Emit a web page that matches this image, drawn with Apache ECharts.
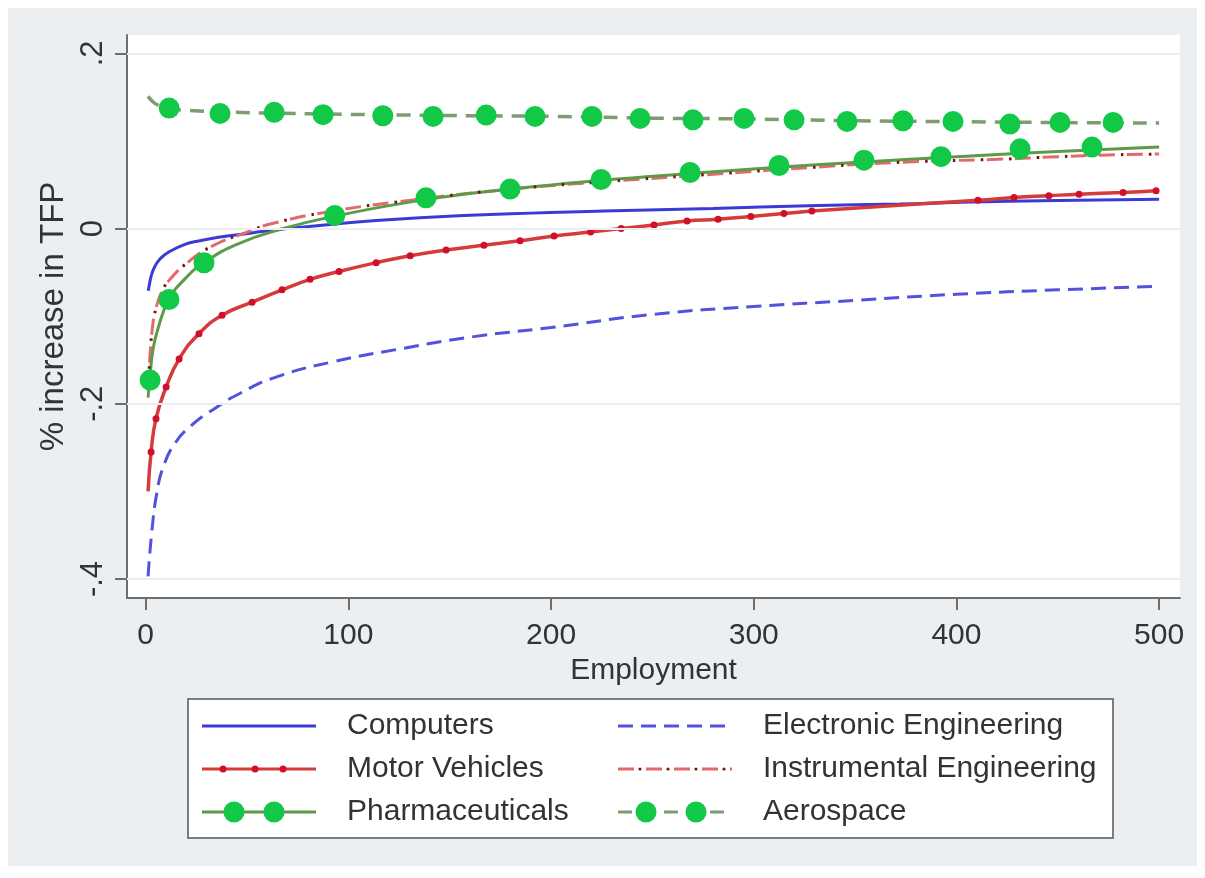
<!DOCTYPE html>
<html><head><meta charset="utf-8">
<script src="https://cdn.jsdelivr.net/npm/echarts@6/dist/echarts.min.js"></script>
<style>html,body{margin:0;padding:0;background:#fff}#c{width:1205px;height:878px}</style>
</head><body><div id="c"></div><script>
// ---- data ----
const xTicks = [0, 100, 200, 300, 400, 500];
const yTicks = [-0.4, -0.2, 0, 0.2];
const yTickLabels = ['-.4', '-.2', '0', '.2'];

const computers = [[1.3,-0.071],[2,-0.062],[3,-0.052],[4.6,-0.043],[7,-0.035],[11.2,-0.027],[19.4,-0.018],[26.8,-0.014],[35.9,-0.010],[52.3,-0.005],[70,0.000],[92.5,0.005],[125.5,0.011],[170,0.016],[226,0.020],[280,0.023],[327,0.026],[372,0.028],[402,0.030],[450,0.032],[500,0.0335]];
const electronic = [[1.2,-0.397],[3,-0.347],[5.5,-0.302],[8.7,-0.272],[14.5,-0.245],[22,-0.226],[33,-0.207],[46.6,-0.188],[65,-0.169],[92.6,-0.152],[124,-0.138],[160,-0.124],[200,-0.113],[250,-0.098],[300,-0.089],[350,-0.082],[400,-0.075],[450,-0.070],[500,-0.066]];
const motorVehicles = [[1.2,-0.300],[2.7,-0.255],[5.1,-0.217],[10.1,-0.181],[16.5,-0.149],[26.3,-0.120],[37.7,-0.099],[52.5,-0.084],[67.3,-0.070],[81.1,-0.058],[95.4,-0.049],[113.7,-0.039],[130.5,-0.031],[148.2,-0.0245],[166.9,-0.019],[184.7,-0.014],[201.5,-0.0085],[219.5,-0.004],[234.6,0.000],[250.8,0.004],[267.1,0.0087],[282.4,0.0106],[298.6,0.0137],[314.9,0.0171],[328.7,0.020],[410.6,0.0323],[428.4,0.0354],[445.6,0.0375],[460.5,0.0392],[482.2,0.0411],[498.5,0.043]];
const instrumental = [[1.2,-0.185],[2,-0.150],[3.5,-0.110],[5,-0.092],[8,-0.072],[12,-0.058],[20,-0.040],[32,-0.021],[50,-0.004],[63,0.006],[90,0.019],[130,0.032],[180,0.045],[230,0.054],[280,0.062],[330,0.070],[376,0.076],[420,0.079],[450,0.082],[475,0.084],[500,0.085]];
const pharmaceuticals = [[1.2,-0.193],[2.2,-0.168],[3.5,-0.140],[6,-0.115],[11.5,-0.081],[20,-0.056],[28.8,-0.039],[45,-0.018],[68,0.000],[93,0.014],[138,0.033],[180,0.045],[225,0.055],[270,0.063],[312,0.070],[354,0.076],[400,0.082],[450,0.088],[500,0.093]];
const pharmaMarkers = [[2.2,-0.173],[11.5,-0.081],[28.8,-0.039],[93.3,0.015],[138.3,0.035],[179.8,0.045],[224.7,0.056],[268.6,0.064],[312.5,0.072],[354.4,0.078],[392.4,0.082],[431.4,0.091],[466.9,0.093]];
const aerospace = [[1.2,0.151],[3,0.146],[6,0.141],[11,0.137],[20,0.135],[40,0.133],[80,0.131],[150,0.129],[200,0.128],[250,0.126],[300,0.125],[350,0.123],[400,0.122],[450,0.121],[500,0.1205]];
const aeroMarkers = [[11.6,0.1375],[36.7,0.1314],[63.4,0.1326],[87.5,0.130],[117,0.1287],[141.8,0.128],[168,0.1295],[192.1,0.128],[220.2,0.128],[243.9,0.1257],[270,0.1241],[295.2,0.1257],[319.9,0.1241],[346,0.1223],[373.6,0.123],[398.3,0.1223],[426.4,0.1192],[451.1,0.1211],[477.3,0.1211]];

// ---- styles ----
const C = {
  comp: '#3a3ad6', elec: '#5252de', motorLine: '#d63b3b', motorDot: '#d0102a',
  instr: '#e26a6a', instrDot: '#7a1212', pharmaLine: '#5e9a4a', green: '#12c947', aeroLine: '#7d9c70'
};
const FONT = '"Liberation Sans", Arial, sans-serif';
const axisColor = '#6e6e6e';

function svgIcon(inner) {
  return 'image://data:image/svg+xml;charset=utf-8,' + encodeURIComponent(
    '<svg xmlns="http://www.w3.org/2000/svg" width="114" height="24" viewBox="0 0 114 24">' + inner + '</svg>');
}
const icons = {
  Computers: svgIcon('<line x1="0" y1="12" x2="114" y2="12" stroke="' + C.comp + '" stroke-width="3"/>'),
  'Motor Vehicles': svgIcon('<line x1="0" y1="12" x2="114" y2="12" stroke="' + C.motorLine + '" stroke-width="3"/>' +
    [21, 53, 81].map(x => '<circle cx="' + x + '" cy="12" r="3.5" fill="' + C.motorDot + '"/>').join('')),
  Pharmaceuticals: svgIcon('<line x1="0" y1="12" x2="114" y2="12" stroke="' + C.pharmaLine + '" stroke-width="3"/>' +
    [32, 72].map(x => '<circle cx="' + x + '" cy="12" r="10.5" fill="' + C.green + '"/>').join('')),
  'Electronic Engineering': svgIcon('<line x1="0" y1="12" x2="114" y2="12" stroke="' + C.elec + '" stroke-width="3" stroke-dasharray="15 8"/>'),
  'Instrumental Engineering': svgIcon('<line x1="0" y1="12" x2="114" y2="12" stroke="' + C.instr + '" stroke-width="3" stroke-dasharray="16 12"/>' +
    [22, 50, 78, 106].map(x => '<circle cx="' + x + '" cy="12" r="1.6" fill="' + C.instrDot + '"/>').join('')),
  Aerospace: svgIcon('<line x1="0" y1="12" x2="114" y2="12" stroke="' + C.aeroLine + '" stroke-width="3" stroke-dasharray="14 9"/>' +
    [28, 78].map(x => '<circle cx="' + x + '" cy="12" r="10.5" fill="' + C.green + '"/>').join(''))
};

const chart = echarts.init(document.getElementById('c'), null, {renderer: 'canvas'});
const legendCommon = {
  orient: 'vertical', itemWidth: 114, itemHeight: 24, itemGap: 13, padding: 0,
  selectedMode: false,
  textStyle: {fontSize: 30, fontFamily: FONT, color: '#333', lineHeight: 30, padding: [0, 0, 0, 26]}
};
const lineBase = {type: 'line', smooth: 0.5, showSymbol: false, symbol: 'none', silent: true, z: 3};

chart.setOption({
  animation: false,
  backgroundColor: '#ffffff',
  graphic: [
    {type: 'rect', z: -10, shape: {x: 8, y: 8, width: 1189, height: 858}, style: {fill: '#ebeff2'}},
    {type: 'rect', z: 100, shape: {x: 188, y: 699, width: 925, height: 139}, style: {fill: '#ffffff', stroke: '#7d7d7d', lineWidth: 2}}
  ],
  grid: {left: 127, top: 35, right: 25, bottom: 280, show: true, backgroundColor: '#ffffff', borderWidth: 0},
  legend: [
    Object.assign({left: 202, top: 711, z: 101,
      data: ['Computers', 'Motor Vehicles', 'Pharmaceuticals'].map(n => ({name: n, icon: icons[n]}))}, legendCommon),
    Object.assign({left: 618, top: 711, z: 101,
      data: ['Electronic Engineering', 'Instrumental Engineering', 'Aerospace'].map(n => ({name: n, icon: icons[n]}))}, legendCommon)
  ],
  xAxis: {
    type: 'value', min: -9.2, max: 510.3,
    name: 'Employment', nameLocation: 'middle', nameGap: 42,
    nameTextStyle: {fontSize: 30, fontFamily: FONT, color: '#333'},
    axisLine: {show: true, onZero: false, lineStyle: {color: axisColor, width: 2}},
    axisTick: {show: true, customValues: xTicks, length: 12, lineStyle: {color: axisColor, width: 2}},
    axisLabel: {customValues: xTicks, fontSize: 30, fontFamily: FONT, color: '#333', margin: 23},
    splitLine: {show: false}
  },
  yAxis: {
    type: 'value', min: -0.4217, max: 0.2209,
    name: '% increase in TFP', nameLocation: 'middle', nameGap: 42, nameRotate: 90,
    nameTextStyle: {fontSize: 33, fontFamily: FONT, color: '#333'},
    axisLine: {show: true, onZero: false, lineStyle: {color: axisColor, width: 2}},
    axisTick: {show: true, customValues: yTicks, length: 12, lineStyle: {color: axisColor, width: 2}},
    axisLabel: {customValues: yTicks, rotate: 90, fontSize: 31, fontFamily: FONT, color: '#333', margin: 18,
      formatter: function (v) { const i = yTicks.findIndex(t => Math.abs(t - v) < 1e-9); return i >= 0 ? yTickLabels[i] : ''; }},
    splitLine: {show: false}
  },
  series: [
    {type: 'line', name: 'gridlines', data: [], silent: true, z: 1,
      markLine: {silent: true, symbol: 'none', animation: false, label: {show: false},
        lineStyle: {color: '#e8eef1', width: 2, type: 'solid'},
        data: yTicks.map(v => ({yAxis: v}))}},
    Object.assign({}, lineBase, {name: 'Computers', data: computers, color: C.comp, lineStyle: {color: C.comp, width: 3}}),
    Object.assign({}, lineBase, {name: 'Electronic Engineering', data: electronic, color: C.elec, lineStyle: {color: C.elec, width: 3, type: [15, 8]}}),
    Object.assign({}, lineBase, {name: 'Motor Vehicles', color: C.motorLine, showSymbol: true, symbol: 'circle', symbolSize: 7,
      itemStyle: {color: C.motorDot}, lineStyle: {color: C.motorLine, width: 3.5},
      data: motorVehicles.map((p, i) => i === 0 ? {value: p, symbol: 'none'} : {value: p})}),
    Object.assign({}, lineBase, {name: 'Instrumental Engineering', data: instrumental, color: C.instr, lineStyle: {color: C.instr, width: 3, type: [16, 12]}}),
    Object.assign({}, lineBase, {name: 'Instrumental dots', data: instrumental, color: C.instrDot, z: 4, lineStyle: {color: C.instrDot, width: 3, type: [2.5, 25.5], dashOffset: 6}}),
    Object.assign({}, lineBase, {name: 'Pharmaceuticals', data: pharmaceuticals, color: C.pharmaLine, lineStyle: {color: C.pharmaLine, width: 3}}),
    Object.assign({}, lineBase, {name: 'Aerospace', data: aerospace, color: C.aeroLine, lineStyle: {color: C.aeroLine, width: 3.5, type: [14, 9]}}),
    {type: 'scatter', name: 'Pharmaceuticals markers', data: pharmaMarkers, symbol: 'circle', symbolSize: 21, silent: true, z: 5, itemStyle: {color: C.green, opacity: 1}},
    {type: 'scatter', name: 'Aerospace markers', data: aeroMarkers, symbol: 'circle', symbolSize: 21, silent: true, z: 5, itemStyle: {color: C.green, opacity: 1}}
  ]
});
</script></body></html>
